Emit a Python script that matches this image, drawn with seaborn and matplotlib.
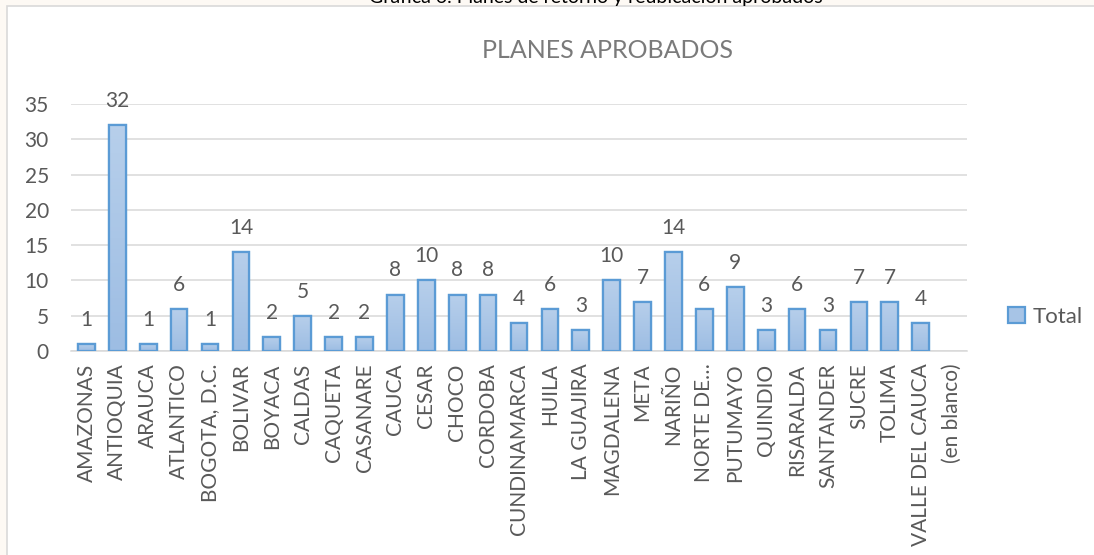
import matplotlib
matplotlib.use("Agg")
import matplotlib.pyplot as plt
from matplotlib.patches import Rectangle, Patch
from matplotlib.colors import LinearSegmentedColormap
import numpy as np
import pandas as pd
import seaborn as sns

departamentos = [
    "AMAZONAS", "ANTIOQUIA", "ARAUCA", "ATLANTICO", "BOGOTA, D.C.", "BOLIVAR",
    "BOYACA", "CALDAS", "CAQUETA", "CASANARE", "CAUCA", "CESAR", "CHOCO",
    "CORDOBA", "CUNDINAMARCA", "HUILA", "LA GUAJIRA", "MAGDALENA", "META",
    "NARIÑO", "NORTE DE…", "PUTUMAYO", "QUINDIO", "RISARALDA", "SANTANDER",
    "SUCRE", "TOLIMA", "VALLE DEL CAUCA", "(en blanco)",
]
planes = [1, 32, 1, 6, 1, 14, 2, 5, 2, 2, 8, 10, 8, 8, 4, 6, 3, 10, 7, 14,
          6, 9, 3, 6, 3, 7, 7, 4, np.nan]
y_ticks = [0, 5, 10, 15, 20, 25, 30, 35]

sns.set_theme(style="white")
plt.rcParams["font.family"] = ["Lato", "DejaVu Sans"]

GRAY_TXT = "#595959"
GRID = "#d9d9d9"
FILL = "#a7c4e6"
EDGE = "#5b9bd5"

W, H = 1094, 555
fig = plt.figure(figsize=(W / 100, H / 100), dpi=100)
fig.patch.set_facecolor("#fdf9f4")

# chart frame, drawn beneath the axes
frame = Rectangle((7 / W, -0.1), 1.2, 1.1 - 6 / H, transform=fig.transFigure,
                  facecolor="white", edgecolor=GRID, linewidth=1.2, zorder=-5)
fig.add_artist(frame)

# caption above the chart (its upper part runs past the canvas)
fig.text(596 / W, 1 - 3 / H, "Gráfica 6. Planes de retorno y reubicación aprobados",
         ha="center", va="baseline", fontsize=14, color="black", zorder=-4)

ax = fig.add_axes([71 / W, 1 - 351 / H, (967 - 71) / W, (351 - 104) / H])
ax.set_facecolor("none")
ax.set_zorder(2)

df = pd.DataFrame({"Departamento": departamentos, "Planes": planes})
sns.barplot(data=df, x="Departamento", y="Planes", order=departamentos,
            color=FILL, width=0.54, edgecolor=EDGE, linewidth=1.6,
            saturation=1, ax=ax, zorder=3)

# soft vertical gradient inside each bar
grad = LinearSegmentedColormap.from_list("barfill", ["#9dbde3", "#b7cfeb"])
for bar in list(ax.patches):
    h = bar.get_height()
    if not np.isfinite(h) or h <= 0:
        continue
    x0 = bar.get_x()
    im = ax.imshow(np.linspace(0, 1, 64).reshape(-1, 1), cmap=grad,
                   origin="lower", aspect="auto",
                   extent=(x0, x0 + bar.get_width(), 0, h), zorder=3.5)
    im.set_clip_path(bar)
    edge = Rectangle((x0, 0), bar.get_width(), h, fill=False,
                     edgecolor=EDGE, linewidth=1.6, zorder=4)
    ax.add_patch(edge)
ax.set_aspect("auto")
ax.set_ylim(0, 35)
ax.set_xlim(-0.5, len(departamentos) - 0.5)

# value labels
for i, v in enumerate(planes):
    if not np.isnan(v):
        ax.annotate(f"{int(v)}", (i, v), xytext=(0, 13), textcoords="offset points",
                    ha="center", va="baseline", fontsize=15, color=GRAY_TXT)

ax.set_yticks(y_ticks)
ax.yaxis.grid(True, color=GRID, linewidth=1.1, zorder=0)
ax.set_axisbelow(True)
for s in ["top", "right", "left"]:
    ax.spines[s].set_visible(False)
ax.spines["bottom"].set_color(GRID)
ax.spines["bottom"].set_linewidth(1.1)
ax.tick_params(axis="both", length=0, labelsize=15, labelcolor=GRAY_TXT)
ax.tick_params(axis="y", pad=16)
ax.tick_params(axis="x", pad=9)
ax.set_xticks(range(len(departamentos)))
ax.set_xticklabels(departamentos, rotation=90)
ax.set_xlabel("")
ax.set_ylabel("")

fig.text(607 / W, 1 - 50 / H, "PLANES APROBADOS", ha="center", va="center",
         fontsize=18, color="#7a7a7a")

handle = Patch(facecolor=FILL, edgecolor=EDGE, linewidth=1.6)
fig.legend([handle], ["Total"], loc="center left",
           bbox_to_anchor=(988 / W, 1 - 317 / H), frameon=False,
           handlelength=0.75, handleheight=0.75, handletextpad=0.35,
           fontsize=16, labelcolor=GRAY_TXT)

fig.savefig("out.png", dpi=100, facecolor=fig.get_facecolor())
